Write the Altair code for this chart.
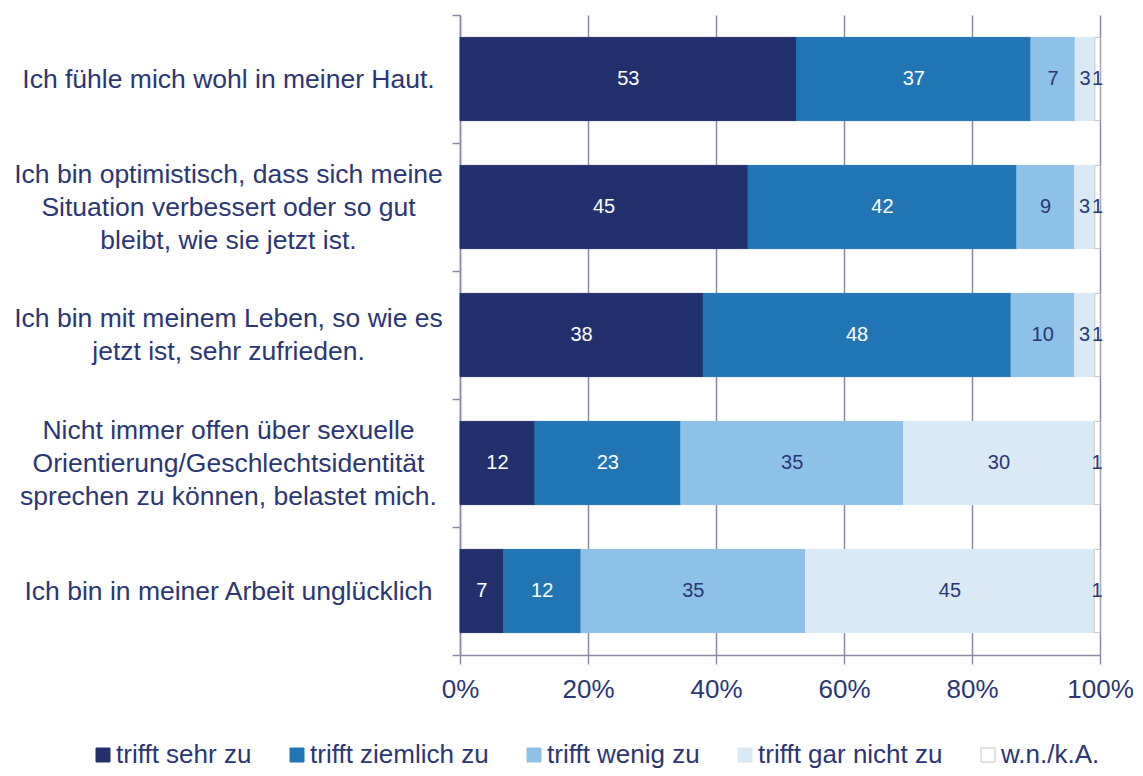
import altair as alt
import pandas as pd

rows = [
    "Ich fühle mich wohl in meiner Haut.",
    "Ich bin optimistisch, dass sich meine|Situation verbessert oder so gut|bleibt, wie sie jetzt ist.",
    "Ich bin mit meinem Leben, so wie es|jetzt ist, sehr zufrieden.",
    "Nicht immer offen über sexuelle|Orientierung/Geschlechtsidentität|sprechen zu können, belastet mich.",
    "Ich bin in meiner Arbeit unglücklich",
]
categories = ["trifft sehr zu", "trifft ziemlich zu", "trifft wenig zu", "trifft gar nicht zu", "w.n./k.A."]

sehr_zu = [52.6, 45.0, 38.0, 11.7, 6.8]
ziemlich_zu = [36.6, 42.0, 48.1, 22.8, 12.1]
wenig_zu = [6.9, 9.0, 9.9, 34.8, 35.1]
gar_nicht_zu = [3.1, 3.2, 3.2, 29.8, 45.1]
wn_ka = [0.8, 0.8, 0.8, 0.9, 0.9]
series = [sehr_zu, ziemlich_zu, wenig_zu, gar_nicht_zu, wn_ka]

x_ticks = [0, 20, 40, 60, 80, 100]

colors = ["#22316e", "#2275b5", "#8ec1e7", "#d9eaf6", "#ffffff"]
strokes = ["#22316e", "#2275b5", "#8ec1e7", "#d9eaf6", "#c8c8c8"]

records = []
for i, r in enumerate(rows):
    for j, c in enumerate(categories):
        records.append({"row": r, "cat": c, "order": j, "value": series[j][i]})
df = pd.DataFrame(records)

navy = "#2b3675"
gridc = "#8a8aa6"
font = "Liberation Sans"

legend = alt.Legend(
    orient="none", legendX=-370, legendY=727, direction="horizontal", title=None,
    symbolType="square", symbolSize=196, symbolStrokeWidth=1,
    labelFontSize=26, labelColor=navy, labelFont=font, labelLimit=500,
    columnPadding=32, labelOffset=0,
)

base = alt.Chart(df).transform_stack(
    stack="value", groupby=["row"], as_=["x0", "x1"], sort=[alt.SortField("order")]
).transform_calculate(mid="(datum.x0 + datum.x1) / 2")

label_offset = {
    "condition": [
        {"test": "length(split(datum.value, '|')) == 3", "value": -33},
        {"test": "length(split(datum.value, '|')) == 2", "value": -16.5},
    ],
    "value": 0,
}

y_enc = alt.Y(
    "row:N", sort=rows, title=None,
    scale=alt.Scale(paddingInner=0, paddingOuter=0),
    axis=alt.Axis(
        labelExpr="split(datum.label, '|')", labelAlign="center", labelBaseline="middle",
        labelPadding=224, labelLimit=1000, labelFontSize=26.5, labelColor=navy, labelFont=font,
        labelLineHeight=33, labelOffset=label_offset,
        tickBand="extent", tickSize=8, tickColor=gridc, tickWidth=1.5,
        domainColor=gridc, domainWidth=1.5, grid=False,
    ),
)

x_enc = alt.X(
    "x0:Q", title=None,
    scale=alt.Scale(domain=[0, 100], nice=False),
    axis=alt.Axis(
        values=x_ticks, labelExpr="datum.value + '%'", grid=True, gridColor=gridc, gridWidth=1.5,
        tickSize=9, tickColor=gridc, tickWidth=1.5, domainColor=gridc, domainWidth=1.5,
        labelFontSize=26, labelColor=navy, labelFont=font, labelPadding=12, labelFlush=False,
    ),
)

bars = base.mark_bar(strokeWidth=1, height=alt.RelativeBandSize(band=0.65)).encode(
    y=y_enc,
    x=x_enc,
    x2="x1:Q",
    color=alt.Color("cat:N", scale=alt.Scale(domain=categories, range=colors), legend=legend),
    stroke=alt.Stroke("cat:N", scale=alt.Scale(domain=categories, range=strokes), legend=legend),
    order=alt.Order("order:Q"),
)

labels = base.mark_text(font=font, fontSize=20, baseline="middle", align="center").encode(
    y=alt.Y("row:N", sort=rows),
    x=alt.X("mid:Q"),
    text=alt.Text("value:Q", format=".0f"),
    color=alt.condition("datum.order < 2", alt.value("white"), alt.value(navy)),
)

chart = alt.layer(bars, labels).properties(
    width=640, height=640,
    autosize=alt.AutoSizeParams(type="none"),
    padding={"left": 452, "top": 7, "right": 34, "bottom": 113},
).configure_view(stroke=None)

chart.save("out.html", embed_options={"renderer": "svg", "actions": False})
